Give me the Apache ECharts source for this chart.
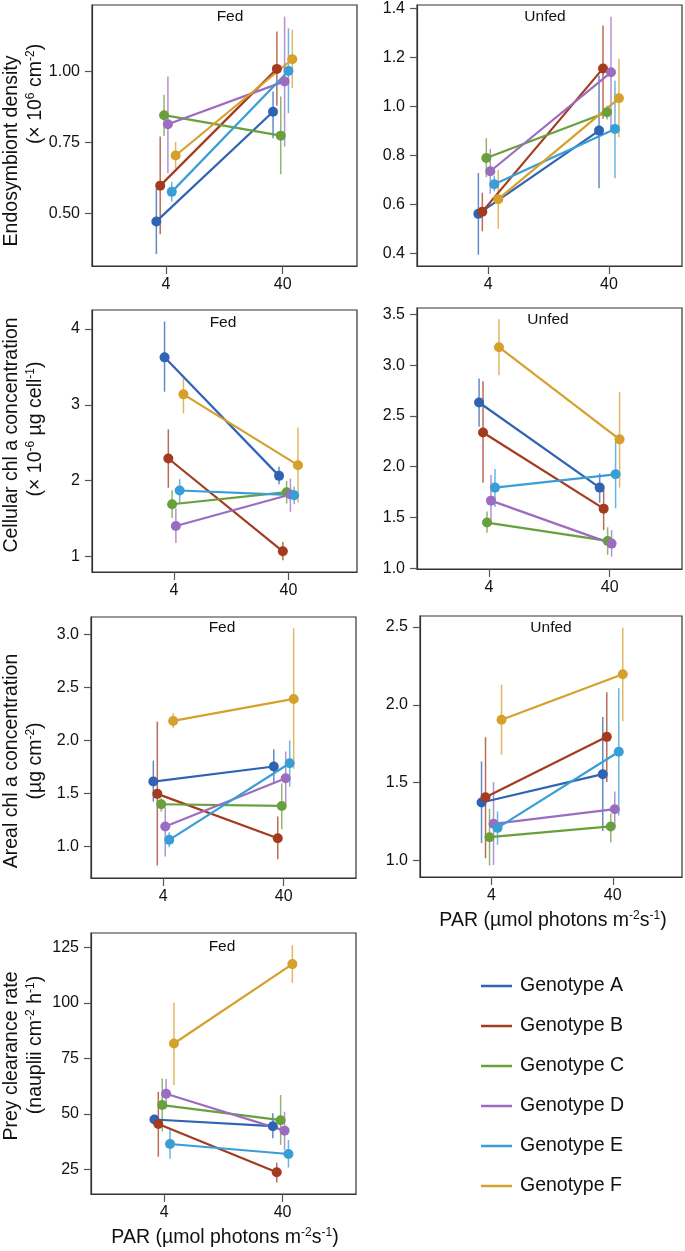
<!DOCTYPE html>
<html><head><meta charset="utf-8">
<script src="https://cdn.jsdelivr.net/npm/echarts@6/dist/echarts.min.js"></script>
<style>html,body{margin:0;padding:0;background:#fff}#c{width:685px;height:1251px}</style>
</head><body><div id="c"></div>
<script>
// ---------- data ----------
const genotypes = ['Genotype A','Genotype B','Genotype C','Genotype D','Genotype E','Genotype F'];
const parLabels = ['4','40'];           // PAR levels (µmol photons m-2 s-1)
const parPos = [0, 1];

// Endosymbiont density, Fed  (per genotype: [PAR 4, PAR 40])
const densFedMean = [[0.471,0.857],[0.597,1.008],[0.845,0.773],[0.813,0.964],[0.575,1.001],[0.703,1.042]];
const densFedLo   = [[0.356,0.764],[0.426,0.878],[0.772,0.637],[0.641,0.735],[0.541,0.852],[0.658,0.940]];
const densFedHi   = [[0.586,0.928],[0.770,1.140],[0.917,0.911],[0.981,1.192],[0.611,1.151],[0.750,1.146]];
// Endosymbiont density, Unfed
const densUnfMean = [[0.562,0.902],[0.571,1.156],[0.790,0.977],[0.736,1.140],[0.683,0.909],[0.622,1.034]];
const densUnfLo   = [[0.395,0.667],[0.491,0.950],[0.712,0.947],[0.644,0.916],[0.654,0.707],[0.501,0.875]];
const densUnfHi   = [[0.729,1.127],[0.648,1.331],[0.871,1.004],[0.827,1.367],[0.718,1.106],[0.741,1.195]];
// Cellular chl a, Fed
const cellFedMean = [[3.626,2.064],[2.293,1.070],[1.690,1.849],[1.404,1.818],[1.871,1.809],[3.138,2.205]];
const cellFedLo   = [[3.173,1.954],[1.906,0.951],[1.510,1.699],[1.180,1.589],[1.712,1.690],[2.887,1.712]];
const cellFedHi   = [[4.097,2.183],[2.676,1.193],[1.875,1.996],[1.633,2.029],[2.020,1.919],[3.349,2.702]];
// Cellular chl a, Unfed
const cellUnfMean = [[2.632,1.794],[2.337,1.587],[1.450,1.269],[1.666,1.243],[1.794,1.925],[3.176,2.269]];
const cellUnfLo   = [[2.393,1.646],[1.843,1.377],[1.351,1.132],[1.427,1.115],[1.604,1.590],[2.901,1.794]];
const cellUnfHi   = [[2.868,1.934],[2.842,1.787],[1.558,1.404],[1.918,1.377],[1.977,2.279],[3.451,2.737]];
// Areal chl a, Fed
const arealFedMean = [[1.610,1.752],[1.494,1.075],[1.396,1.380],[1.186,1.642],[1.060,1.783],[2.182,2.390]];
const arealFedLo   = [[1.421,1.588],[0.818,0.877],[1.327,1.160],[0.903,1.390],[0.990,1.563],[2.113,1.730]];
const arealFedHi   = [[1.808,1.915],[2.176,1.280],[1.453,1.594],[1.365,1.893],[1.132,1.997],[2.255,3.057]];
// Areal chl a, Unfed
const arealUnfMean = [[1.372,1.554],[1.406,1.794],[1.149,1.218],[1.235,1.329],[1.209,1.698],[1.904,2.197]];
const arealUnfLo   = [[1.111,1.188],[1.014,1.503],[0.967,1.117],[0.971,1.218],[1.100,1.289],[1.679,1.895]];
const arealUnfHi   = [[1.636,1.921],[1.792,2.081],[1.331,1.299],[1.503,1.443],[1.314,2.107],[2.129,2.495]];
// Prey clearance rate, Fed
const preyFedMean = [[47.5,44.5],[45.5,23.8],[54.0,47.2],[59.1,42.5],[36.5,32.0],[81.7,117.4]];
const preyFedLo   = [[45.1,39.1],[30.8,19.2],[42.1,36.1],[52.5,33.8],[29.8,25.9],[63.0,109.0]];
const preyFedHi   = [[49.6,50.3],[60.0,28.1],[66.0,58.5],[65.7,51.0],[43.1,38.3],[100.0,125.9]];

// tick values
const densFedTicks = [0.50, 0.75, 1.00];
const densUnfTicks = [0.4, 0.6, 0.8, 1.0, 1.2, 1.4];
const cellFedTicks = [1, 2, 3, 4];
const cellUnfTicks = [1.0, 1.5, 2.0, 2.5, 3.0, 3.5];
const arealFedTicks = [1.0, 1.5, 2.0, 2.5, 3.0];
const arealUnfTicks = [1.0, 1.5, 2.0, 2.5];
const preyFedTicks = [25, 50, 75, 100, 125];

// ---------- styling / layout ----------
const colors = ['#2F63B3','#A43B1F','#69A03B','#9B6CC0','#3A9ED6','#D5A02C'];
const FONT = '"Liberation Sans", Arial, Helvetica, sans-serif';
const DODGE = 0.033;

const panels = [
  {mean:densFedMean, lo:densFedLo, hi:densFedHi, ticks:densFedTicks, dec:2, grid:{left:92,top:5,width:265,height:261}, xr:[-0.634,1.637], yr:[0.314,1.233], title:'Fed', tpos:[230,17]},
  {mean:densUnfMean, lo:densUnfLo, hi:densUnfHi, ticks:densUnfTicks, dec:1, grid:{left:417,top:5,width:265,height:261}, xr:[-0.591,1.605], yr:[0.349,1.415], title:'Unfed', tpos:[545,17]},
  {mean:cellFedMean, lo:cellFedLo, hi:cellFedHi, ticks:cellFedTicks, dec:0, grid:{left:92,top:310,width:265,height:262}, xr:[-0.716,1.598], yr:[0.797,4.25], title:'Fed', tpos:[223,323]},
  {mean:cellUnfMean, lo:cellUnfLo, hi:cellUnfHi, ticks:cellUnfTicks, dec:1, grid:{left:417,top:308,width:265,height:261}, xr:[-0.597,1.600], yr:[0.993,3.562], title:'Unfed', tpos:[548,320]},
  {mean:arealFedMean, lo:arealFedLo, hi:arealFedHi, ticks:arealFedTicks, dec:1, grid:{left:91,top:617,width:265,height:261}, xr:[-0.600,1.600], yr:[0.70,3.163], title:'Fed', tpos:[222,628]},
  {mean:arealUnfMean, lo:arealUnfLo, hi:arealUnfHi, ticks:arealUnfTicks, dec:1, grid:{left:420,top:616,width:262,height:261}, xr:[-0.590,1.571], yr:[0.893,2.571], title:'Unfed', tpos:[551,628]},
  {mean:preyFedMean, lo:preyFedLo, hi:preyFedHi, ticks:preyFedTicks, dec:0, grid:{left:91,top:933,width:265,height:261}, xr:[-0.618,1.620], yr:[14,131.4], title:'Fed', tpos:[222,947]}
];

const grids = [], xAxes = [], yAxes = [], series = [], graphics = [];

panels.forEach((p, i) => {
  grids.push(Object.assign({show:true, borderColor:'#333', borderWidth:1.2, backgroundColor:'transparent'}, p.grid));
  xAxes.push({
    type:'value', gridIndex:i, min:p.xr[0], max:p.xr[1], position:'bottom',
    axisLine:{show:true, onZero:false, lineStyle:{color:'#333', width:1.2}},
    axisTick:{show:true, length:8, customValues:parPos, lineStyle:{color:'#555', width:1.2}},
    axisLabel:{show:true, customValues:parPos, formatter:v => parLabels[Math.round(v)], fontSize:16, fontFamily:FONT, color:'#111', margin:11},
    splitLine:{show:false}
  });
  yAxes.push({
    type:'value', gridIndex:i, min:p.yr[0], max:p.yr[1], position:'left',
    axisLine:{show:true, onZero:false, lineStyle:{color:'#333', width:1.2}},
    axisTick:{show:true, length:7, customValues:p.ticks, lineStyle:{color:'#555', width:1.2}},
    axisLabel:{show:true, customValues:p.ticks, formatter:v => Number(v).toFixed(p.dec), fontSize:16, fontFamily:FONT, color:'#111', margin:12},
    splitLine:{show:false}
  });
  graphics.push({type:'text', x:p.tpos[0], y:p.tpos[1], style:{text:p.title, fontSize:15.5, fontFamily:FONT, fill:'#111', align:'center', verticalAlign:'middle'}});

  genotypes.forEach((g, gi) => {
    const off = (gi - 2.5) * DODGE;
    const errData = parPos.map((x, k) => [x + off, p.lo[gi][k], p.hi[gi][k]]);
    series.push({
      type:'custom', name:g, xAxisIndex:i, yAxisIndex:i, data:errData, z:1, silent:true,
      encode:{x:0, y:[1,2]},
      renderItem:(params, api) => {
        const a = api.coord([api.value(0), api.value(1)]);
        const b = api.coord([api.value(0), api.value(2)]);
        return {type:'line', shape:{x1:a[0], y1:a[1], x2:b[0], y2:b[1]}, style:{stroke:colors[gi], lineWidth:1.5, opacity:0.75}};
      }
    });
    series.push({
      type:'line', name:g, xAxisIndex:i, yAxisIndex:i, z:2,
      data: parPos.map((x, k) => [x + off, p.mean[gi][k]]),
      symbol:'circle', symbolSize:10, showSymbol:true,
      lineStyle:{color:colors[gi], width:2.2},
      itemStyle:{color:colors[gi], borderWidth:0},
      emphasis:{disabled:true}
    });
  });
});

// y-axis titles (two lines each)
const supStyle = {fontSize:12, fontFamily:FONT, fill:'#111', verticalAlign:'top'};
const yTitles = [
  {l1:'Endosymbiont density', l2:'(× 10{s|6} cm{s|-2})', y1:151, y2:94},
  {l1:'Cellular chl a concentration', l2:'(× 10{s|-6} µg cell{s|-1})', y1:435, y2:429},
  {l1:'Areal chl a concentration', l2:'(µg cm{s|-2})', y1:761, y2:761},
  {l1:'Prey clearance rate', l2:'(nauplii cm{s|-2} h{s|-1})', y1:1056, y2:1045}
];
yTitles.forEach(t => {
  graphics.push({type:'text', x:12, y:t.y1, rotation:Math.PI/2, style:{text:t.l1, fontSize:19.5, fontFamily:FONT, fill:'#111', align:'center', verticalAlign:'middle'}});
  graphics.push({type:'text', x:36, y:t.y2, rotation:Math.PI/2, style:{text:t.l2, fontSize:19.5, lineHeight:22, fontFamily:FONT, fill:'#111', align:'center', verticalAlign:'middle', rich:{s:supStyle}}});
});
// x-axis titles
[[553, 921], [225, 1238]].forEach(pos => {
  graphics.push({type:'text', x:pos[0], y:pos[1], style:{text:'PAR (µmol photons m{s|-2}s{s|-1})', fontSize:19.5, lineHeight:22, fontFamily:FONT, fill:'#111', align:'center', verticalAlign:'middle', rich:{s:supStyle}}});
});

const chart = echarts.init(document.getElementById('c'), null, {renderer:'canvas'});
chart.setOption({
  animation:false,
  backgroundColor:'#fff',
  grid:grids, xAxis:xAxes, yAxis:yAxes, series:series,
  legend:{
    orient:'vertical', left:476, top:971,
    data: genotypes.map((g, gi) => ({name:g, icon:'rect', itemStyle:{color:colors[gi]}})),
    itemWidth:31, itemHeight:2.5, itemGap:20,
    textStyle:{fontSize:19.5, fontFamily:FONT, color:'#111', lineHeight:20, padding:[0,0,0,3]},
    selectedMode:false
  },
  graphic:graphics
});
</script>
</body></html>
